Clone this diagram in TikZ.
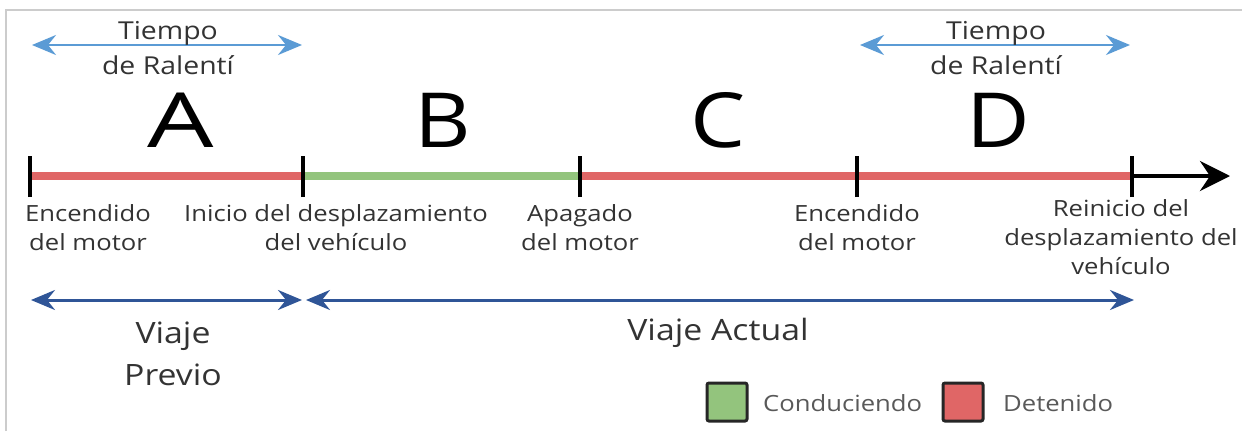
\documentclass[tikz,border=0pt]{standalone}
\usepackage{fontspec}
\setmainfont[FakeStretch=1.15]{Open Sans}
\usetikzlibrary{arrows.meta}
\definecolor{stopred}{HTML}{E06666}
\definecolor{drivegreen}{HTML}{93C47D}
\definecolor{lightblue}{HTML}{5B9BD5}
\definecolor{darkblue}{HTML}{2F5597}
\definecolor{txt}{HTML}{333333}
\definecolor{legtxt}{HTML}{595959}
\tikzset{
  seg/.style={line width=8pt},
  tickmark/.style={line width=4pt,black},
  idlearrow/.style={lightblue,line width=2.5pt,{Stealth[length=24pt,width=20pt,inset=8pt]}-{Stealth[length=24pt,width=20pt,inset=8pt]}},
  triparrow/.style={darkblue,line width=3pt,{Stealth[length=24pt,width=20pt,inset=8pt]}-{Stealth[length=24pt,width=20pt,inset=8pt]}},
  lbl/.style={text=txt,font=\fontsize{22.3}{29}\selectfont,align=center,inner sep=0pt,anchor=north},
  letter/.style={text=black,font=\fontsize{76}{76}\selectfont,inner sep=0pt,anchor=base},
  bigl/.style={text=txt,font=\fontsize{29.4}{42}\selectfont,align=center,inner sep=0pt},
  idletxt/.style={text=txt,font=\fontsize{24.7}{35}\selectfont,align=center,inner sep=0pt},
  legbox/.style={draw=black!85,line width=3pt,rounded corners=2pt,minimum width=40pt,minimum height=38pt,inner sep=0pt},
  legtext/.style={text=legtxt,font=\fontsize{22.3}{26}\selectfont,anchor=west,inner sep=0pt}
}
\begin{document}
\begin{tikzpicture}[x=1pt,y=-1pt]
\useasboundingbox (0,0) rectangle (1242,431);
\draw[black!20,line width=1.5pt] (6,431) -- (6,10) -- (1242,10);
% timeline points
\coordinate (t0) at (30,176);
\coordinate (t1) at (303,176);
\coordinate (t2) at (580,176);
\coordinate (t3) at (857,176);
\coordinate (t4) at (1132,176);
\coordinate (tend) at (1230,176);
\draw[seg,stopred] (t0) -- (t1);
\draw[seg,drivegreen] (t1) -- (t2);
\draw[seg,stopred] (t2) -- (t3);
\draw[seg,stopred] (t3) -- (t4);
\draw[line width=4pt,-{Stealth[length=30pt,width=30pt,inset=10pt]}] (t4) -- (tend);
\foreach \t in {t0,t1,t2,t3,t4} \draw[tickmark] ([yshift=-21pt]\t) -- ([yshift=20pt]\t);
% letters
\node[letter,xscale=1.2] (A) at (181,147) {A};
\node[letter] (B) at (443,147) {B};
\node[letter] (C) at (718,147) {C};
\node[letter] (D) at (998,147) {D};
% idle time
\coordinate (i1a) at (32,45); \coordinate (i1b) at (302,45);
\coordinate (i2a) at (860,45); \coordinate (i2b) at (1130,45);
\draw[idlearrow] (i1a) -- (i1b);
\draw[idlearrow] (i2a) -- (i2b);
\node[idletxt] (idle1) at (168,48) {Tiempo\\de Ralentí};
\node[idletxt] (idle2) at (996,48) {Tiempo\\de Ralentí};
% labels
\node[lbl] (l0) at (88,204) {Encendido\\del motor};
\node[lbl] (l1) at (336,204) {Inicio del desplazamiento\\del vehículo};
\node[lbl] (l2) at (580,204) {Apagado\\del motor};
\node[lbl] (l3) at (857,204) {Encendido\\del motor};
\node[lbl] (l4) at (1121,199) {Reinicio del\\desplazamiento del\\vehículo};
% trips
\coordinate (p1a) at (31,300); \coordinate (p1b) at (302,300);
\coordinate (p2a) at (306,300); \coordinate (p2b) at (1134,300);
\draw[triparrow] (p1a) -- (p1b);
\draw[triparrow] (p2a) -- (p2b);
\node[bigl] (prev) at (173,354) {Viaje\\Previo};
\node[bigl] (act) at (718,333) {Viaje Actual};
% legend
\node[legbox,fill=drivegreen] (lg) at (727,402) {};
\node[legtext] (lgt) at (763,403) {Conduciendo};
\node[legbox,fill=stopred] (lr) at (963,402) {};
\node[legtext] (lrt) at (1003,403) {Detenido};
\end{tikzpicture}
\end{document}
